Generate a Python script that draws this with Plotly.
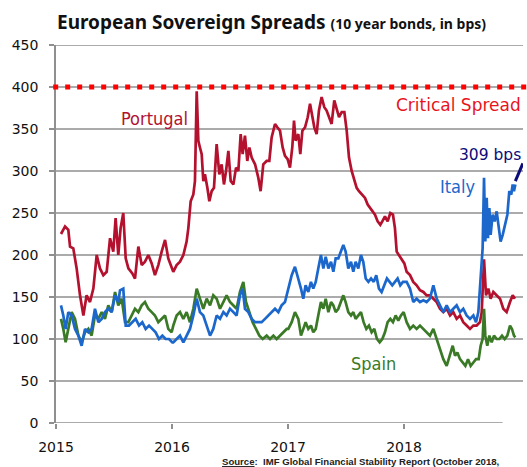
import plotly.graph_objects as go

# ---------------- data (decimal years, spreads in bps) ----------------
portugal_t = [
    2015.043, 2015.078, 2015.106, 2015.121, 2015.149, 2015.178, 2015.207, 2015.236, 2015.264, 2015.293,
    2015.322, 2015.351, 2015.379, 2015.408, 2015.437, 2015.466, 2015.494, 2015.514, 2015.537, 2015.557,
    2015.580, 2015.601, 2015.624, 2015.658, 2015.681, 2015.710, 2015.739, 2015.767, 2015.796, 2015.825,
    2015.853, 2015.882, 2015.911, 2015.940, 2015.968, 2015.997,
    2016.011, 2016.040, 2016.069, 2016.098, 2016.126, 2016.141, 2016.161, 2016.184, 2016.198, 2016.213,
    2016.227, 2016.241, 2016.256, 2016.270, 2016.284, 2016.305, 2016.322, 2016.342, 2016.362, 2016.385,
    2016.408, 2016.428, 2016.448, 2016.466, 2016.486, 2016.506, 2016.529, 2016.552, 2016.572, 2016.592,
    2016.609, 2016.629, 2016.649, 2016.667, 2016.687, 2016.716, 2016.744, 2016.764, 2016.787, 2016.816,
    2016.839, 2016.859, 2016.888, 2016.908, 2016.931, 2016.954, 2016.974,
    2016.997, 2017.017, 2017.037, 2017.052, 2017.066, 2017.089, 2017.106, 2017.124, 2017.147, 2017.170,
    2017.190, 2017.210, 2017.227, 2017.247, 2017.267, 2017.290, 2017.313, 2017.333, 2017.353, 2017.376,
    2017.399, 2017.420, 2017.440, 2017.463, 2017.486, 2017.506, 2017.526, 2017.549, 2017.572, 2017.592,
    2017.612, 2017.635, 2017.664, 2017.687, 2017.707, 2017.727, 2017.750, 2017.773, 2017.796, 2017.813,
    2017.836, 2017.859, 2017.882, 2017.905, 2017.922, 2017.937, 2017.957, 2017.980, 2018.003,
    2018.023, 2018.052, 2018.080, 2018.109, 2018.138, 2018.167, 2018.195, 2018.224, 2018.253, 2018.282,
    2018.310, 2018.339, 2018.368, 2018.397, 2018.425, 2018.454, 2018.483, 2018.511, 2018.540, 2018.569,
    2018.598, 2018.626, 2018.655, 2018.670, 2018.690, 2018.707, 2018.727, 2018.747, 2018.770, 2018.799,
    2018.828, 2018.856, 2018.885, 2018.914, 2018.937, 2018.957,
]
portugal_bps = [
    225, 234, 230, 210, 208, 184, 152, 128, 152, 144, 160, 200, 184, 176, 180, 220, 204, 244, 200, 232,
    250, 196, 184, 178, 172, 210, 188, 192, 200, 190, 176, 188, 204, 218, 196, 184,
    180, 188, 192, 200, 216, 232, 264, 272, 288, 395, 336, 328, 320, 288, 296, 280, 264, 276, 280, 332,
    296, 308, 284, 300, 324, 288, 284, 304, 300, 344, 320, 342, 312, 328, 316, 308, 292, 276, 308, 312,
    312, 340, 356, 352, 348, 328, 318,
    314, 304, 328, 360, 336, 344, 320, 348, 352, 364, 380, 364, 352, 344, 372, 388, 376, 372, 364, 356,
    384, 372, 364, 370, 370, 348, 316, 300, 288, 280, 276, 272, 268, 260, 256, 252, 248, 240, 236, 240,
    246, 240, 250, 248, 232, 204, 200, 196, 190,
    180, 176, 168, 164, 158, 156, 152, 152, 148, 144, 136, 132, 136, 128, 132, 124, 128, 120, 116, 112,
    116, 116, 120, 132, 195, 152, 160, 148, 156, 152, 148, 136, 132, 144, 152, 148,
]

italy_t = [
    2015.043, 2015.063, 2015.083, 2015.106, 2015.135, 2015.164, 2015.193, 2015.221, 2015.250, 2015.279,
    2015.307, 2015.336, 2015.365, 2015.394, 2015.422, 2015.451, 2015.480, 2015.509, 2015.537, 2015.552,
    2015.580, 2015.601, 2015.629, 2015.658, 2015.687, 2015.716, 2015.744, 2015.773, 2015.802, 2015.830,
    2015.859, 2015.888, 2015.917, 2015.945, 2015.974, 2016.003,
    2016.011, 2016.040, 2016.069, 2016.098, 2016.126, 2016.155, 2016.184, 2016.213, 2016.241, 2016.270,
    2016.299, 2016.328, 2016.356, 2016.385, 2016.414, 2016.443, 2016.471, 2016.500, 2016.529, 2016.557,
    2016.586, 2016.609, 2016.629, 2016.658, 2016.687, 2016.716, 2016.744, 2016.773, 2016.802, 2016.830,
    2016.859, 2016.888, 2016.917, 2016.945, 2016.974, 2017.003,
    2017.032, 2017.060, 2017.089, 2017.112, 2017.132, 2017.152, 2017.175, 2017.198, 2017.218, 2017.239,
    2017.261, 2017.284, 2017.305, 2017.325, 2017.348, 2017.371, 2017.391, 2017.411, 2017.434, 2017.457,
    2017.477, 2017.497, 2017.520, 2017.543, 2017.563, 2017.583, 2017.606, 2017.629, 2017.649, 2017.670,
    2017.693, 2017.716, 2017.739, 2017.761, 2017.784, 2017.807, 2017.830, 2017.853, 2017.876, 2017.899,
    2017.922, 2017.945, 2017.968, 2017.991,
    2018.023, 2018.052, 2018.080, 2018.109, 2018.138, 2018.167, 2018.195, 2018.224, 2018.253, 2018.282,
    2018.310, 2018.339, 2018.368, 2018.397, 2018.425, 2018.454, 2018.483, 2018.511, 2018.540, 2018.569,
    2018.598, 2018.621, 2018.641, 2018.661, 2018.678, 2018.690, 2018.701, 2018.713, 2018.724, 2018.736,
    2018.747, 2018.764, 2018.782, 2018.799, 2018.816, 2018.833, 2018.851, 2018.871, 2018.891, 2018.908,
    2018.925, 2018.937, 2018.948, 2018.960,
]
italy_bps = [
    140, 128, 112, 132, 128, 112, 104, 92, 112, 108, 112, 136, 120, 124, 132, 136, 132, 152, 144, 158,
    160, 116, 116, 120, 124, 116, 120, 112, 116, 112, 108, 100, 104, 100, 100, 96,
    96, 100, 104, 96, 104, 112, 128, 148, 132, 128, 116, 104, 112, 128, 124, 132, 128, 136, 132, 128,
    152, 160, 136, 132, 124, 120, 120, 120, 124, 128, 132, 136, 132, 140, 144, 160,
    176, 186, 172, 160, 148, 164, 156, 168, 160, 168, 184, 200, 184, 198, 184, 192, 180, 196, 196, 204,
    212, 204, 184, 192, 180, 192, 184, 200, 192, 172, 168, 172, 168, 176, 160, 156, 164, 172, 168, 164,
    168, 172, 164, 168,
    168, 160, 144, 148, 144, 146, 144, 148, 164, 148, 140, 132, 140, 132, 136, 140, 132, 136, 128, 124,
    128, 120, 132, 168, 208, 292, 216, 268, 220, 256, 224, 248, 240, 252, 236, 216, 224, 236, 248, 276,
    272, 284, 276, 284,
]

spain_t = [
    2015.043, 2015.063, 2015.083, 2015.106, 2015.135, 2015.164, 2015.193, 2015.221, 2015.250, 2015.279,
    2015.307, 2015.336, 2015.365, 2015.394, 2015.422, 2015.451, 2015.480, 2015.509, 2015.537, 2015.566,
    2015.595, 2015.624, 2015.652, 2015.681, 2015.710, 2015.739, 2015.767, 2015.796, 2015.825, 2015.853,
    2015.882, 2015.911, 2015.940, 2015.968, 2015.997,
    2016.011, 2016.040, 2016.069, 2016.098, 2016.126, 2016.155, 2016.184, 2016.213, 2016.241, 2016.270,
    2016.299, 2016.328, 2016.356, 2016.385, 2016.414, 2016.443, 2016.471, 2016.500, 2016.529, 2016.557,
    2016.586, 2016.615, 2016.638, 2016.667, 2016.695, 2016.724, 2016.753, 2016.782, 2016.816, 2016.845,
    2016.874, 2016.902, 2016.931, 2016.960, 2016.989,
    2017.003, 2017.032, 2017.060, 2017.089, 2017.112, 2017.132, 2017.152, 2017.175, 2017.198, 2017.218,
    2017.239, 2017.261, 2017.284, 2017.305, 2017.325, 2017.348, 2017.371, 2017.391, 2017.411, 2017.434,
    2017.457, 2017.477, 2017.497, 2017.520, 2017.543, 2017.563, 2017.583, 2017.606, 2017.629, 2017.652,
    2017.675, 2017.698, 2017.721, 2017.744, 2017.767, 2017.790, 2017.813, 2017.836, 2017.859, 2017.882,
    2017.905, 2017.928, 2017.951, 2017.974, 2017.997,
    2018.023, 2018.052, 2018.080, 2018.109, 2018.138, 2018.167, 2018.195, 2018.224, 2018.253, 2018.282,
    2018.310, 2018.339, 2018.368, 2018.397, 2018.420, 2018.440, 2018.460, 2018.483, 2018.506, 2018.529,
    2018.552, 2018.575, 2018.598, 2018.621, 2018.644, 2018.661, 2018.678, 2018.690, 2018.701, 2018.718,
    2018.736, 2018.756, 2018.776, 2018.799, 2018.822, 2018.845, 2018.868, 2018.891, 2018.914, 2018.931,
    2018.948, 2018.960,
]
spain_bps = [
    124, 112, 96, 112, 132, 124, 104, 96, 108, 112, 104, 128, 124, 132, 124, 140, 132, 156, 140, 148,
    120, 120, 128, 136, 132, 140, 144, 136, 132, 128, 120, 124, 128, 112, 108,
    116, 128, 132, 124, 132, 120, 136, 160, 148, 136, 148, 140, 152, 148, 136, 144, 152, 144, 140, 136,
    156, 168, 144, 132, 120, 112, 104, 100, 104, 100, 104, 100, 104, 108, 112,
    112, 120, 132, 124, 104, 112, 120, 112, 116, 108, 112, 128, 144, 136, 148, 132, 144, 140, 132, 136,
    144, 152, 144, 132, 128, 132, 124, 128, 132, 120, 112, 116, 108, 112, 100, 96, 100, 108, 120, 124,
    120, 128, 122, 128, 132,
    120, 112, 116, 112, 116, 112, 108, 104, 112, 100, 88, 76, 68, 80, 92, 80, 84, 76, 72, 68,
    76, 68, 72, 76, 76, 92, 100, 136, 104, 92, 104, 96, 104, 100, 100, 104, 100, 104, 116, 112,
    104, 102,
]

critical_spread = 400
year_ticks = [2015, 2016, 2017, 2018]
y_ticks = [0, 50, 100, 150, 200, 250, 300, 350, 400, 450]

# ---------------- styling ----------------
C_PT = "#b3112e"
C_IT = "#1c67cc"
C_ES = "#3a7a27"
C_GRID = "#8f8f8f"
NARROW = "DejaVu Sans Condensed, Liberation Sans Narrow, Liberation Sans, sans-serif"
BODY = "DejaVu Sans, Verdana, sans-serif"

fig = go.Figure()
fig.add_trace(go.Scatter(x=portugal_t, y=portugal_bps, mode="lines",
                         line=dict(color=C_PT, width=2.7), name="Portugal"))
fig.add_trace(go.Scatter(x=spain_t, y=spain_bps, mode="lines",
                         line=dict(color=C_ES, width=2.7), name="Spain"))
fig.add_trace(go.Scatter(x=italy_t, y=italy_bps, mode="lines",
                         line=dict(color=C_IT, width=2.7), name="Italy"))

shapes = []
for v in y_ticks[1:]:
    shapes.append(dict(type="line", xref="paper", x0=0, x1=1, yref="y", y0=v, y1=v,
                       line=dict(color=C_GRID, width=1.6), layer="below"))
# bottom axis line (stops short of the right edge)
shapes.append(dict(type="line", xref="x", x0=2015, x1=2018.85, yref="y", y0=0, y1=0,
                   line=dict(color=C_GRID, width=1.6), layer="below"))
# critical spread dotted line
shapes.append(dict(type="line", xref="paper", x0=-0.006, x1=1.02, yref="y",
                   y0=critical_spread, y1=critical_spread,
                   line=dict(color="#ff0000", width=5, dash="5px,7px"), layer="above"))
# pointer for 309 bps
shapes.append(dict(type="line", xref="x", yref="y",
                   x0=italy_t[-1], y0=italy_bps[-1] + 4,
                   x1=italy_t[-1] + 0.065, y1=italy_bps[-1] + 25,
                   line=dict(color="#0b0b7a", width=3)))

annotations = [
    dict(text="Portugal", x=2016.155, y=363, xref="x", yref="y", showarrow=False,
         font=dict(family=NARROW, size=18, color=C_PT), xanchor="right", yanchor="middle"),
    dict(text="Italy", x=2018.638, y=282, xref="x", yref="y", showarrow=False,
         font=dict(family=NARROW, size=18, color=C_IT), xanchor="right", yanchor="middle"),
    dict(text="Spain", x=2017.948, y=71, xref="x", yref="y", showarrow=False,
         font=dict(family=NARROW, size=18, color=C_ES), xanchor="right", yanchor="middle"),
    dict(text="Critical Spread", x=1.0, y=378, xref="paper", yref="y", showarrow=False,
         font=dict(family=BODY, size=17, color="#e8141c"), xanchor="right", yanchor="middle"),
    dict(text="309 bps", x=1.0, y=319, xref="paper", yref="y", showarrow=False,
         font=dict(family=BODY, size=15.5, color="#0b0b7a"), xanchor="right", yanchor="middle"),
    dict(text="<b><u>Source</u>:  IMF Global Financial Stability Report (October 2018,</b>",
         x=(220 - 56) / 467, y=(423 - 461) / 378, xref="paper", yref="paper", showarrow=False,
         font=dict(family="Liberation Sans, Arial, sans-serif", size=9.6, color="#222222"),
         xanchor="left", yanchor="middle"),
]

fig.update_layout(
    width=527, height=467,
    margin=dict(l=56, r=4, t=45, b=44),
    paper_bgcolor="white", plot_bgcolor="white",
    showlegend=False,
    title=dict(
        text="<b>European Sovereign Spreads</b> <b><span style='font-size:14px'>(10 year bonds, in bps)</span></b>",
        font=dict(family="Noto Sans, DejaVu Sans, sans-serif", size=19, color="#111111"),
        xref="container", x=57 / 527, xanchor="left",
        yref="container", y=1 - 22 / 467, yanchor="middle"),
    xaxis=dict(range=[2015, 2019.026], tickvals=year_ticks, ticktext=[str(y) for y in year_ticks],
               showgrid=False, zeroline=False, showline=False,
               ticks="outside", ticklen=5, tickwidth=1.5, tickcolor=C_GRID,
               tickfont=dict(family=BODY, size=14, color="#111111"),
               ticklabelstandoff=6),
    yaxis=dict(range=[0, 450], tickvals=y_ticks, showgrid=False, zeroline=False,
               showline=True, linecolor=C_GRID, linewidth=1.6,
               ticks="outside", ticklen=5, tickwidth=1.5, tickcolor=C_GRID,
               tickfont=dict(family=BODY, size=14, color="#111111"),
               ticklabelstandoff=8),
    shapes=shapes,
    annotations=annotations,
)

fig.write_html("out.html")
